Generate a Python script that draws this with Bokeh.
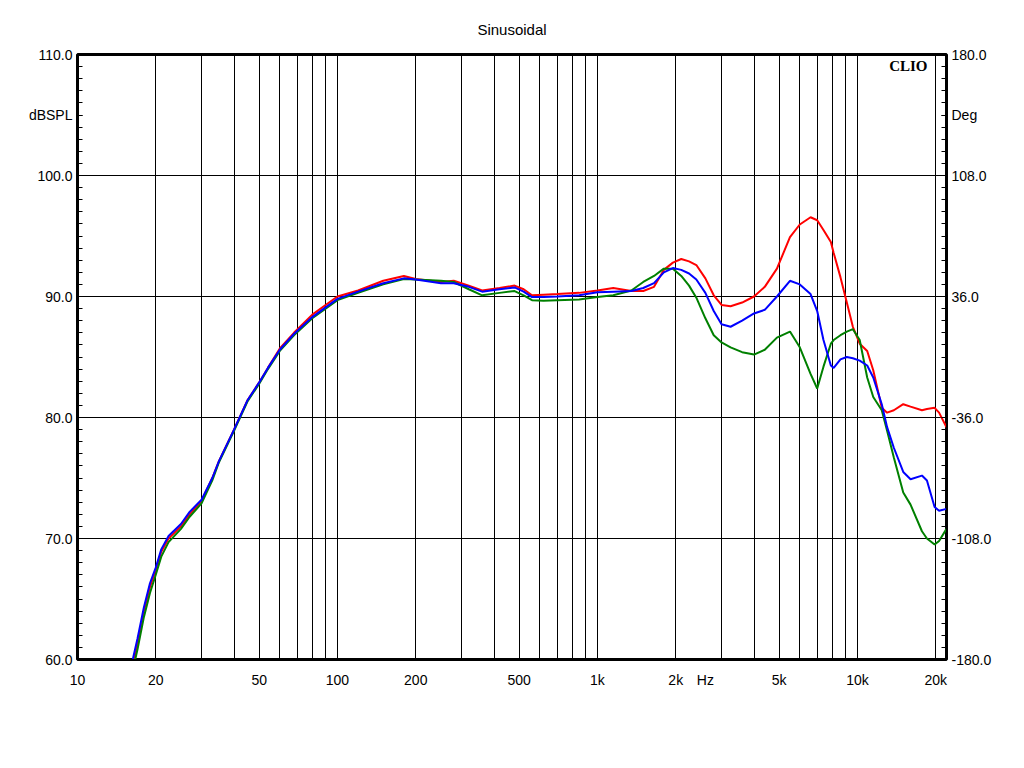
from bokeh.plotting import figure
from bokeh.models import (Range1d, LinearAxis, FixedTicker, Label)
from bokeh.embed import file_html
from bokeh.resources import INLINE

# ---------------- data ----------------
freq = [16, 17, 18, 19, 20, 21, 22.4, 25, 27, 30, 33, 35, 40, 45, 50, 54, 60, 68, 80, 90,
        100, 120, 150, 180, 200, 250, 280, 320, 360, 420, 480, 520, 560, 620, 700, 850,
        1000, 1150, 1350, 1500, 1650, 1800, 1950, 2100, 2250, 2400, 2600, 2800, 3000, 3250,
        3600, 4000, 4400, 4900, 5500, 6000, 6600, 7000, 7400, 7900, 8100, 8600, 9100, 9600,
        10200, 10900, 11500, 12400, 13000, 13800, 15000, 16000, 17700, 18500, 19800, 20600, 22000]

red = [58.8, 61.3, 64.0, 66.0, 67.4, 68.9, 70.0, 71.0, 72.0, 73.1, 75.0, 76.4, 79.0, 81.4, 82.9, 84.1, 85.7, 87.0, 88.5, 89.3,
       90.0, 90.5, 91.3, 91.7, 91.45, 91.2, 91.3, 90.9, 90.5, 90.7, 90.9, 90.6, 90.1, 90.15, 90.2, 90.3,
       90.5, 90.7, 90.45, 90.45, 90.8, 92.2, 92.8, 93.1, 92.9, 92.6, 91.5, 90.1, 89.3, 89.2,
       89.5, 90.0, 90.8, 92.3, 94.9, 95.95, 96.55, 96.3, 95.5, 94.5, 93.6, 91.6, 89.5, 87.5,
       86.1, 85.5, 83.9, 80.8, 80.4, 80.6, 81.1, 80.9, 80.6, 80.7, 80.8, 80.4, 79.2]

blue = [59.2, 61.7, 64.3, 66.3, 67.6, 69.1, 70.2, 71.2, 72.2, 73.2, 75.0, 76.4, 79.0, 81.4, 82.9, 84.1, 85.6, 86.9, 88.3, 89.1,
        89.8, 90.4, 91.1, 91.5, 91.4, 91.1, 91.1, 90.8, 90.4, 90.6, 90.75, 90.4, 89.95, 89.95, 90.0, 90.1,
        90.35, 90.4, 90.45, 90.7, 91.1, 92.0, 92.35, 92.2, 91.9, 91.4, 90.3, 88.8, 87.7, 87.5,
        88.0, 88.6, 88.9, 90.0, 91.3, 91.0, 90.2, 88.8, 86.4, 84.3, 84.1, 84.8, 85.0, 84.9,
        84.7, 84.3, 83.3, 81.1, 79.2, 77.5, 75.5, 74.9, 75.2, 74.8, 72.6, 72.3, 72.45]

green = [58.3, 60.8, 63.5, 65.5, 67.0, 68.5, 69.7, 70.8, 71.8, 72.9, 74.8, 76.3, 78.9, 81.3, 82.8, 84.0, 85.5, 86.8, 88.2, 89.0,
         89.7, 90.3, 91.0, 91.45, 91.4, 91.3, 91.2, 90.6, 90.1, 90.3, 90.45, 90.1, 89.7, 89.65, 89.7, 89.75,
         89.95, 90.1, 90.5, 91.2, 91.7, 92.3, 92.3, 91.7, 90.9, 89.9, 88.2, 86.8, 86.2, 85.8,
         85.4, 85.2, 85.6, 86.6, 87.1, 85.8, 83.6, 82.4, 84.2, 86.1, 86.4, 86.8, 87.1, 87.3,
         86.4, 83.3, 81.7, 80.6, 78.9, 76.7, 73.8, 72.8, 70.6, 70.0, 69.5, 69.8, 70.8]

x_tick_vals = [10, 20, 50, 100, 200, 500, 1000, 2000, 2600, 5000, 10000, 20000]
x_tick_text = ["10", "20", "50", "100", "200", "500", "1k", "2k", "Hz", "5k", "10k", "20k"]
x_grid_vals = [20, 30, 40, 50, 60, 70, 80, 90, 100, 200, 300, 400, 500, 600, 700, 800, 900,
               1000, 2000, 3000, 4000, 5000, 6000, 7000, 8000, 9000, 10000, 20000]
db_ticks = [60, 70, 80, 90, 100, 105, 110]
db_labels = {60: "60.0", 70: "70.0", 80: "80.0", 90: "90.0", 100: "100.0", 105: "dBSPL", 110: "110.0"}
deg_ticks = [-180, -108, -36, 36, 108, 144, 180]
deg_labels = {-180: "-180.0", -108: "-108.0", -36: "-36.0", 36: "36.0", 108: "108.0", 144: "Deg", 180: "180.0"}

FONT = "Liberation Sans"

p = figure(width=1008, height=752, x_axis_type="log",
           x_range=Range1d(10, 22000), y_range=Range1d(60, 110),
           output_backend="svg", toolbar_location=None,
           min_border_left=77, min_border_right=62, min_border_top=54, min_border_bottom=93)
p.background_fill_color = "white"
p.border_fill_color = "white"
p.outline_line_color = "black"
p.outline_line_width = 3

p.title.text = "Sinusoidal"
p.title.align = "center"
p.title.text_font = FONT
p.title.text_font_size = "15px"
p.title.text_font_style = "normal"
p.title.text_color = "black"
p.title.standoff = 34

# x axis
xa = p.xaxis[0]
xa.ticker = FixedTicker(ticks=x_tick_vals)
xa.major_label_overrides = {v: t for v, t in zip(x_tick_vals, x_tick_text)}
xa.major_tick_in = 0
xa.major_tick_out = 0
xa.minor_tick_in = 0
xa.minor_tick_out = 0
xa.axis_line_color = "black"
xa.major_label_standoff = 12
xa.major_label_text_font = FONT
xa.major_label_text_font_size = "14px"
xa.major_label_text_color = "black"

# left y axis
ya = p.yaxis[0]
ya.ticker = FixedTicker(ticks=db_ticks, minor_ticks=list(range(60, 111)))
ya.major_label_overrides = db_labels
ya.major_tick_in = 5
ya.major_tick_out = 0
ya.minor_tick_in = 5
ya.minor_tick_out = 0
ya.major_tick_line_color = "black"
ya.minor_tick_line_color = "black"
ya.axis_line_color = "black"
ya.major_label_standoff = 5
ya.major_label_text_font = FONT
ya.major_label_text_font_size = "14px"
ya.major_label_text_color = "black"

# right y axis (degrees)
p.extra_y_ranges = {"deg": Range1d(-180, 180)}
ra = LinearAxis(y_range_name="deg")
ra.ticker = FixedTicker(ticks=deg_ticks, minor_ticks=[-180 + 7.2 * i for i in range(51)])
ra.major_label_overrides = deg_labels
ra.major_tick_in = 5
ra.major_tick_out = 0
ra.minor_tick_in = 5
ra.minor_tick_out = 0
ra.major_tick_line_color = "black"
ra.minor_tick_line_color = "black"
ra.axis_line_color = "black"
ra.major_label_standoff = 5
ra.major_label_text_font = FONT
ra.major_label_text_font_size = "14px"
ra.major_label_text_color = "black"
p.add_layout(ra, "right")

# grids
p.xgrid.ticker = FixedTicker(ticks=x_grid_vals)
p.xgrid.grid_line_color = "black"
p.xgrid.grid_line_alpha = 1.0
p.xgrid.grid_line_width = 1
p.ygrid.ticker = FixedTicker(ticks=[70, 80, 90, 100])
p.ygrid.grid_line_color = "black"
p.ygrid.grid_line_alpha = 1.0
p.ygrid.grid_line_width = 1

# curves
p.line(freq, red, line_color="#ff0000", line_width=2)
p.line(freq, green, line_color="#008000", line_width=2)
p.line(freq, blue, line_color="#0000ff", line_width=2)

# brand text inside the frame
p.add_layout(Label(x=22000, y=110, x_offset=-19, y_offset=-11, text="CLIO", text_align="right",
                   text_baseline="middle", text_font="Liberation Serif", text_font_style="bold",
                   text_font_size="15px", text_color="black"))

open("out.html", "w").write(file_html(p, INLINE))
